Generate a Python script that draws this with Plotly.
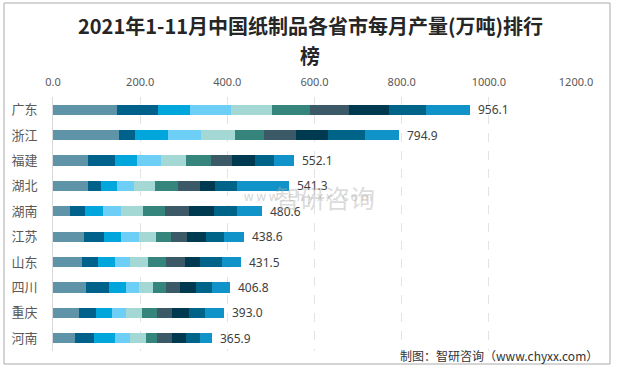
import plotly.graph_objects as go

provinces = ["广东", "浙江", "福建", "湖北", "湖南", "江苏", "山东", "四川", "重庆", "河南"]
totals = [956.1, 794.9, 552.1, 541.3, 480.6, 438.6, 431.5, 406.8, 393.0, 365.9]
months = ["1-2月", "3月", "4月", "5月", "6月", "7月", "8月", "9月", "10月", "11月"]

m1_2 = [146.8, 151.4, 80.3, 80.3, 39.0, 71.1, 66.5, 75.7, 59.7, 50.5]
m3 = [94.1, 36.7, 62.0, 29.8, 34.4, 45.9, 36.8, 52.8, 39.0, 43.6]
m4 = [73.4, 75.8, 50.4, 36.7, 41.3, 39.0, 39.0, 39.0, 36.7, 48.2]
m5 = [93.4, 75.7, 55.1, 39.1, 41.3, 41.3, 34.4, 29.8, 32.1, 34.4]
m6 = [94.1, 78.0, 57.4, 48.2, 50.5, 39.0, 41.3, 32.2, 36.7, 36.7]
m7 = [87.9, 66.5, 57.3, 52.7, 50.5, 34.5, 41.3, 29.8, 34.4, 25.2]
m8 = [89.5, 73.5, 48.2, 50.5, 55.0, 36.7, 43.6, 32.1, 34.4, 34.4]
m9 = [91.8, 73.4, 52.8, 34.4, 57.4, 43.6, 34.4, 36.7, 39.0, 32.2]
m10 = [84.9, 84.9, 43.6, 50.5, 52.8, 41.3, 50.5, 36.7, 36.8, 32.1]
m11 = [100.2, 79.0, 45.0, 119.1, 58.4, 46.2, 43.7, 42.0, 44.2, 28.6]

series = [m1_2, m3, m4, m5, m6, m7, m8, m9, m10, m11]
colors = ["#5f93a8", "#00618a", "#00a6dc", "#6dcff5", "#a3d8d5",
          "#36857c", "#3c5968", "#003a50", "#006489", "#0f93c9"]

tick_vals = [0, 200, 400, 600, 800, 1000, 1200]
tick_text = ["0.0", "200.0", "400.0", "600.0", "800.0", "1000.0", "1200.0"]

title_lines = ["2021年1-11月中国纸制品各省市每月产量(万吨)排行", "榜"]

W, H = 617, 368
ML, MR, MT, MB = 53, 41, 97, 17

fig = go.Figure()
for name, vals, col in zip(months, series, colors):
    fig.add_trace(go.Bar(
        y=provinces, x=vals, name=name, orientation="h",
        marker=dict(color=col, line=dict(width=0)),
        hoverinfo="x+y+name",
    ))

pw = W - ML - MR
ph = H - MT - MB


def px_x(px):
    return (px - ML) / pw


def px_y(py):
    return (H - MB - py) / ph


annotations = []
for p, t in zip(provinces, totals):
    annotations.append(dict(
        x=t, y=p, xref="x", yref="y", text=f"{t:.1f}", showarrow=False,
        xanchor="left", xshift=6,
        font=dict(family="Noto Sans, Noto Sans CJK SC", size=12, color="#404040"),
    ))

# title (two lines)
for i, line in enumerate(title_lines):
    annotations.append(dict(
        x=px_x(310), y=px_y(25 + 30 * i), xref="paper", yref="paper",
        text=f"<b>{line}</b>", showarrow=False, xanchor="center", yanchor="middle",
        font=dict(family="Noto Sans CJK SC", size=20, color="#262626"),
    ))

# watermark
annotations.append(dict(
    x=px_x(325), y=px_y(177), xref="paper", yref="paper", text="智研咨询",
    showarrow=False, font=dict(family="Noto Sans CJK SC", size=25, color="rgba(175,175,175,0.45)"),
))
annotations.append(dict(
    x=px_x(308), y=px_y(196), xref="paper", yref="paper", text="w w w . c h y x x . c o m",
    showarrow=False, font=dict(family="Noto Sans", size=12, color="rgba(175,175,175,0.55)"),
))
# source
annotations.append(dict(
    x=px_x(600), y=px_y(355), xref="paper", yref="paper",
    text="制图：智研咨询（www.chyxx.com）", showarrow=False, xanchor="right", yanchor="middle",
    font=dict(family="Noto Sans CJK SC", size=12, color="#333333"),
))

fig.update_layout(
    width=W, height=H,
    margin=dict(l=ML, r=MR, t=MT, b=MB, autoexpand=False),
    paper_bgcolor="white", plot_bgcolor="white",
    barmode="stack", bargap=0.6, showlegend=False,
    xaxis=dict(
        side="top", range=[0, 1200], tickvals=tick_vals, ticktext=tick_text,
        showgrid=True, gridcolor="#e3e3e3", griddash="dash", gridwidth=1,
        zeroline=False, showline=False,
        ticks="outside", ticklen=6, tickcolor="rgba(0,0,0,0)",
        tickfont=dict(family="Noto Sans", size=11, color="#595959"),
        fixedrange=True, automargin=False,
    ),
    yaxis=dict(
        categoryorder="array", categoryarray=provinces, autorange="reversed",
        showline=True, linecolor="#d9d9d9", linewidth=1,
        showgrid=False, zeroline=False,
        ticks="outside", ticklen=12, tickcolor="rgba(0,0,0,0)",
        tickfont=dict(family="Noto Sans CJK SC", size=13, color="#595959"),
        fixedrange=True, automargin=False,
    ),
    annotations=annotations,
    shapes=[dict(
        type="rect", xref="paper", yref="paper",
        x0=px_x(4), x1=px_x(610), y0=px_y(364), y1=px_y(3),
        line=dict(color="#aaaaaa", width=1), fillcolor="rgba(0,0,0,0)", layer="below",
    )],
)

fig.write_html(
    "out.html",
    config={"displayModeBar": False},
    post_script="document.body.style.margin='0';document.body.style.overflow='hidden';",
)
